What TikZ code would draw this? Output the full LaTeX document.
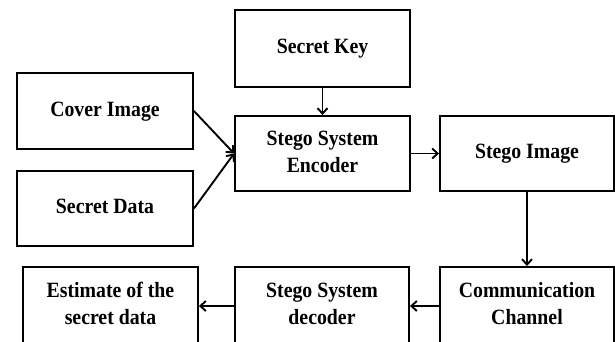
\documentclass[tikz,border=0pt]{standalone}
\usepackage{fontspec}
\setmainfont{Liberation Serif}
\usetikzlibrary{arrows.meta}
\newcommand\lbl[1]{\scalebox{1}[1.1]{\begin{tabular}{@{}c@{}}#1\end{tabular}}}
\begin{document}
\begin{tikzpicture}[x=1pt,y=-1pt,
  box/.style={draw, line width=1.9pt, inner sep=0pt, align=center,
    font=\bfseries\fontsize{19.8}{24.5}\selectfont},
  conn/.style={line width=1.9pt, -{Straight Barb[length=5.5pt,width=10pt,line width=1.9pt]}}]
\useasboundingbox (0,0) rectangle (615,342);
\clip (0,0) rectangle (615,342);
\node[box, minimum width=175pt, minimum height=77pt] (key) at (322.5,48.5) {\lbl{Secret Key}};
\node[box, minimum width=175pt, minimum height=75pt] (enc) at (322.5,153.5) {\lbl{Stego System\\Encoder}};
\node[box, minimum width=176pt, minimum height=76pt] (cover) at (105,111) {\lbl{Cover Image}};
\node[box, minimum width=176pt, minimum height=75pt] (data) at (105,208.5) {\lbl{Secret Data}};
\node[box, minimum width=174pt, minimum height=75pt] (stego) at (527,153.5) {\lbl{Stego Image}};
\node[box, minimum width=175pt, minimum height=78pt] (est) at (110.5,306) {\lbl{Estimate of the\\secret data}};
\node[box, minimum width=174pt, minimum height=78pt] (dec) at (322,306) {\lbl{Stego System\\decoder}};
\node[box, minimum width=174pt, minimum height=78pt] (comm) at (527,306) {\lbl{Communication\\Channel}};
\draw[conn] (key.south) -- (enc.north);
\draw[conn] (cover.east) -- (enc.west);
\draw[conn] (data.east) -- (enc.west);
\draw[conn] (enc.east) -- (stego.west);
\draw[conn] (stego.south) -- (comm.north);
\draw[conn] (comm.west) -- (dec.east);
\draw[conn] (dec.west) -- (est.east);
\end{tikzpicture}
\end{document}
